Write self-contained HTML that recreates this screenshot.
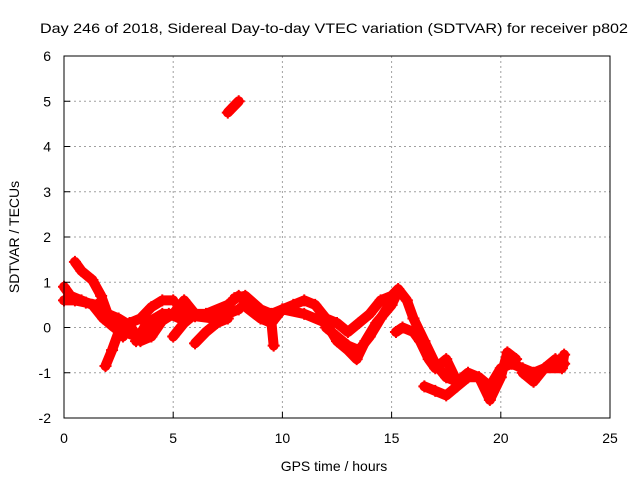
<!DOCTYPE html>
<html><head><meta charset="utf-8"><style>
body{margin:0;background:#fff}
svg text{font-family:"Liberation Sans",sans-serif;font-size:14px;fill:#000}
</style></head><body>
<svg width="640" height="480">
<text x="334" y="33" text-anchor="middle" textLength="588" lengthAdjust="spacingAndGlyphs">Day 246 of 2018, Sidereal Day-to-day VTEC variation (SDTVAR) for receiver p802</text>
<g id="grid"></g>
<g id="series"></g>
<rect x="64" y="56" width="546" height="362" fill="none" stroke="#000" stroke-width="1"/>
<g id="ticks"></g>
<text x="334" y="471" text-anchor="middle">GPS time / hours</text>
<text transform="translate(19,237) rotate(-90)" text-anchor="middle">SDTVAR / TECUs</text>
</svg>
<script>
const xTicks=[0,5,10,15,20,25];
const yTicks=[-2,-1,0,1,2,3,4,5,6];
const trackA=[[0,0.9],[0.3,0.7],[0.8,0.6],[1.3,0.5],[1.8,0.2],[2.3,0],[2.8,-0.1],[3.3,-0.2],[3.8,0],[4.3,0.1],[4.8,0.3],[5.3,0.2],[6,0.25],[6.8,0.2],[7.5,0.3],[8,0.4]];
const trackB=[[0.5,1.45],[0.8,1.25],[1.3,1.05],[1.7,0.7],[2.0,0.3],[2.4,0.05],[2.7,-0.2]];
const trackB2=[[1.9,-0.85],[2.2,-0.5],[2.5,-0.1],[3,0.1],[3.5,0.2],[4,0.45],[4.5,0.6],[5,0.6]];
const trackC=[[0,0.6],[0.5,0.6],[1,0.55],[1.5,0.5],[2,0.3],[2.5,0.2],[3,0.05],[3.5,-0.3],[4,-0.2],[4.5,0.15],[5,0.3],[5.5,0.6],[6,0.3]];
const trackD=[[3.3,-0.3],[3.8,0.1],[4.5,0.3],[5.5,0.3],[6.5,0.3],[7.5,0.5],[8,0.7]];
const trackD2=[[6,-0.35],[6.5,-0.1],[7,0.1],[7.5,0.2]];
const trackD3=[[5,-0.2],[5.5,0.1],[6,0.3]];
const trackE=[[7.8,0.65],[8.3,0.7],[9,0.4],[9.5,0.3],[10,0.4],[10.5,0.5],[11,0.6],[11.5,0.5],[12,0.2],[12.5,0.1],[13,-0.1],[13.5,0.1],[14,0.3],[14.5,0.6],[15,0.7],[15.3,0.85],[15.7,0.6],[16,0.2],[16.5,-0.3],[17,-0.8],[17.5,-1.1],[18,-1.2],[18.5,-1.1],[19,-1.1],[19.5,-1.3],[20,-0.9],[20.5,-0.8],[21,-0.9],[21.5,-1.0],[22,-0.9],[22.5,-0.7],[22.9,-0.8]];
const trackF=[[8.2,0.5],[9,0.2],[9.5,0.1],[10,0.4],[11,0.3],[12,0.1],[12.5,-0.3],[13,-0.5],[13.4,-0.7],[13.8,-0.3],[14.3,0.1],[15,0.5],[15.3,0.8]];
const trackG=[[12,0],[12.5,-0.2],[13,-0.4],[13.5,-0.5],[14,-0.2],[14.5,0.2],[15,0.6]];
const trackH=[[15.2,-0.1],[15.5,0],[16,-0.1],[16.3,-0.3],[16.7,-0.7],[17,-0.9],[17.5,-0.7],[18,-1.2],[18.5,-1.0],[19,-1.1],[19.5,-1.6],[20,-1.1],[20.3,-0.55],[20.7,-0.7]];
const trackI=[[16.5,-1.3],[17,-1.4],[17.5,-1.5],[18,-1.3],[18.5,-1.1]];
const trackJ=[[7.5,4.75],[7.8,4.9],[8.0,5.0]];
const trackK=[[9.5,0.1],[9.6,-0.4]];
const trackL=[[21,-1.0],[21.5,-1.2],[22,-0.9],[22.8,-0.9],[22.9,-0.6]];
const tracks=[trackA,trackB,trackB2,trackC,trackD,trackD2,trackD3,trackE,trackF,trackG,trackH,trackI,trackJ,trackK,trackL];

const X0=64,X1=610,Y0=418,Y1=56,xmin=0,xmax=25,ymin=-2,ymax=6;
const xs=h=>X0+(h-xmin)/(xmax-xmin)*(X1-X0);
const ys=v=>Y0-(v-ymin)/(ymax-ymin)*(Y0-Y1);
const NS="http://www.w3.org/2000/svg";
function mk(tag,at,parent){const e=document.createElementNS(NS,tag);for(const k in at)e.setAttribute(k,at[k]);parent.appendChild(e);return e;}
const grid=document.getElementById('grid'),ticks=document.getElementById('ticks'),ser=document.getElementById('series');
xTicks.forEach(t=>{
  const x=xs(t);
  if(t>xmin&&t<xmax){const l=mk('line',{x1:x,x2:x,y1:Y1,y2:Y0,stroke:'#a0a0a0','stroke-dasharray':'2,3'},grid);
  
  }
  const tk=mk('line',{x1:x,x2:x,y1:Y0,y2:Y0-6,stroke:'#000'},ticks);
  
  
  const tx=mk('text',{x:x,y:Y0+25,'text-anchor':'middle'},ticks);tx.textContent=t;
  
  
});
yTicks.forEach(t=>{
  const y=ys(t);
  if(t>ymin&&t<ymax){const l=mk('line',{x1:X0,x2:X1,y1:y,y2:y,stroke:'#a0a0a0','stroke-dasharray':'2,3'},grid);
  
  }
  const tk=mk('line',{x1:X0,x2:X0+6,y1:y,y2:y,stroke:'#000'},ticks);
  
  
  const tx=mk('text',{x:X0-13,y:y+5,'text-anchor':'end'},ticks);tx.textContent=t;
  
  
});
tracks.forEach(tr=>{
  const p=mk('polyline',{points:tr.map(d=>xs(d[0])+','+ys(d[1])).join(' '),fill:'none',stroke:'#ff0000','stroke-width':10,'stroke-linejoin':'round','stroke-linecap':'round'},ser);
  
  
  tr.forEach(d=>{
    const x=xs(d[0]),y=ys(d[1]);
    const m=mk('path',{d:`M${x-6},${y}H${x+6}M${x},${y-6}V${y+6}`,stroke:'#ff0000','stroke-width':2},ser);
    
    
  });
});
</script>
</body></html>
